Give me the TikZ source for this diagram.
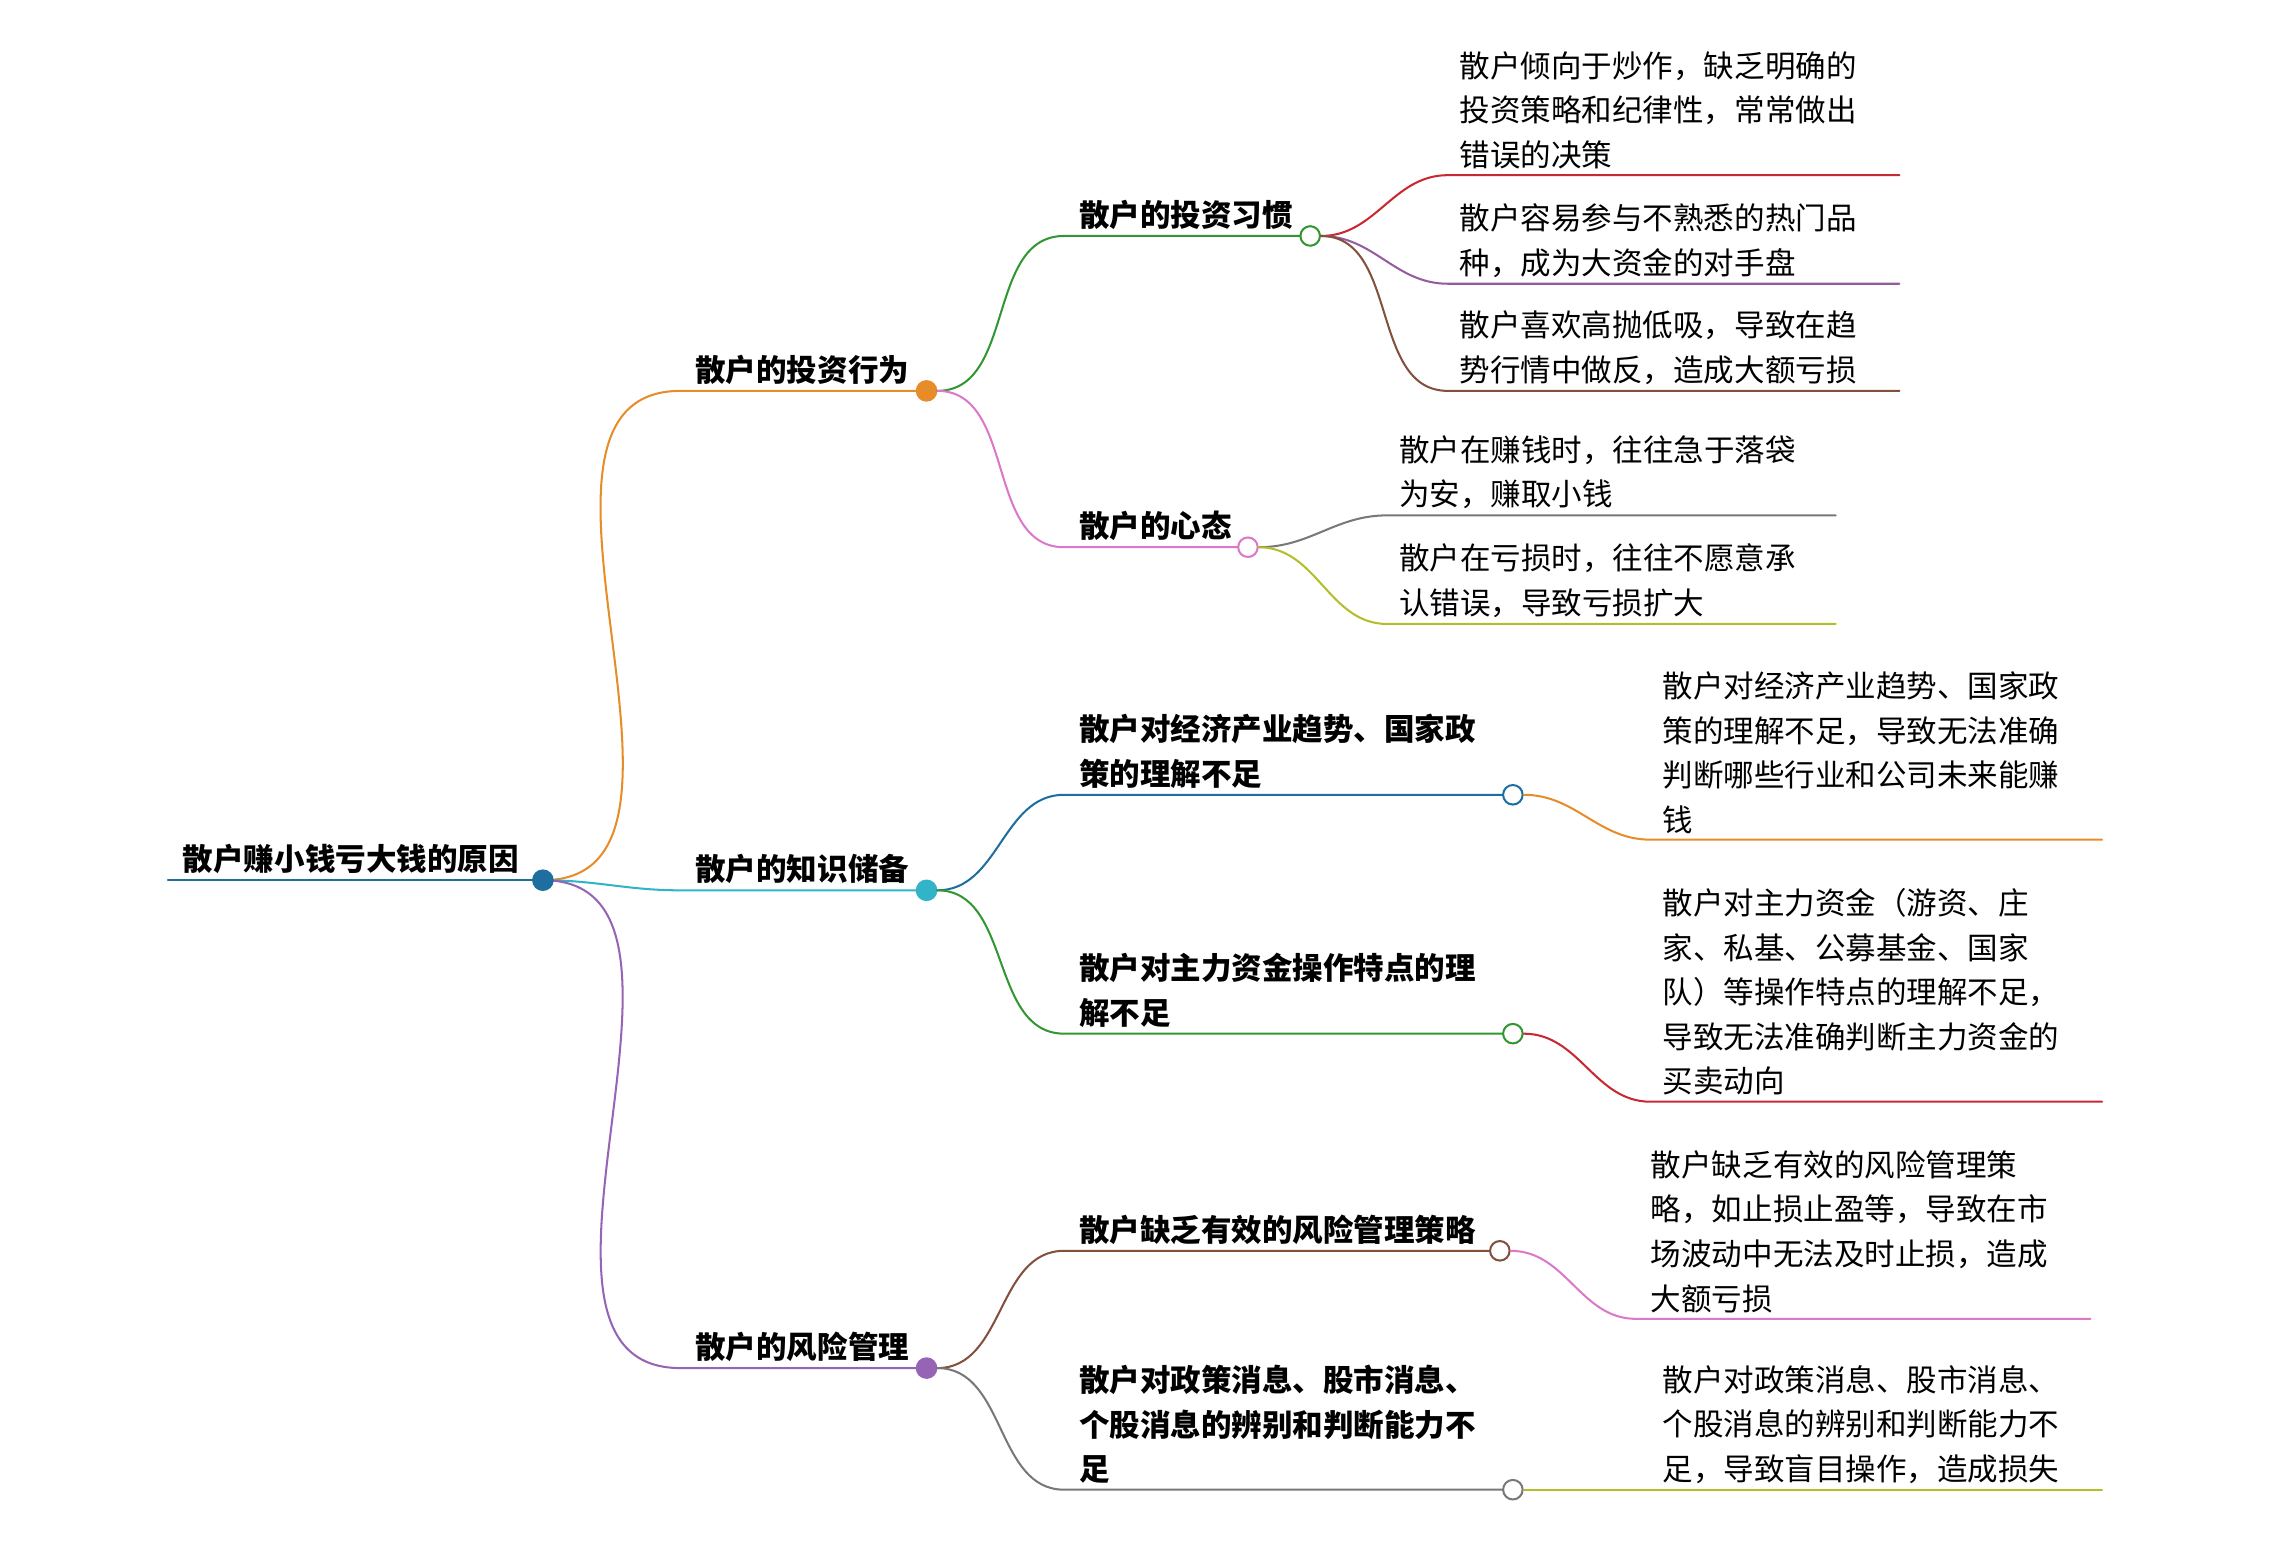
\documentclass[tikz,border=0pt]{standalone}
\usepackage{fontspec}
\setmainfont{Noto Sans CJK SC}
\usetikzlibrary{positioning}
\definecolor{cBlue}{RGB}{30,100,160}
\definecolor{cOrange}{RGB}{230,140,40}
\definecolor{cCyan}{RGB}{50,180,200}
\definecolor{cPurple}{RGB}{150,100,180}
\definecolor{cGreen}{RGB}{50,150,50}
\definecolor{cPink}{RGB}{220,120,200}
\definecolor{cRed}{RGB}{200,40,50}
\definecolor{cLilac}{RGB}{150,90,160}
\definecolor{cBrown}{RGB}{130,80,60}
\definecolor{cGray}{RGB}{120,120,120}
\definecolor{cOlive}{RGB}{180,190,40}
\definecolor{cDBlue}{RGB}{30,110,160}
\begin{document}
\begin{tikzpicture}[x=0.02cm,y=-0.02cm,
	hub/.style={circle,draw,thick,fill=white,inner sep=0pt,minimum size=0.27cm},
	topic/.style={anchor=south west,inner sep=0pt,align=left,font=\fontsize{12}{17.5}\selectfont\bfseries},
	leaf/.style={anchor=south west,inner sep=0pt,align=left,font=\fontsize{12}{17.5}\selectfont},
	link/.style={thick, line cap=round}
	]
\useasboundingbox (0,0) rectangle (1568,1070);

% root
\coordinate (r0) at (116,608);
\node [leaf,font=\fontsize{12}{17.5}\selectfont\bfseries] (rt) at (126,604) {散户赚小钱亏大钱的原因};

% level 1
\coordinate (a0) at (470,270);
\coordinate (b0) at (470,615);
\coordinate (c0) at (470,945);
\node [topic] (at) at (480,266) {散户的投资行为};
\node [topic] (bt) at (480,611) {散户的知识储备};
\node [topic] (ct) at (480,941) {散户的风险管理};

% level 2
\coordinate (a10) at (735,163);
\coordinate (a20) at (735,378);
\coordinate (b10) at (735,549);
\coordinate (b20) at (735,714);
\coordinate (c10) at (735,864);
\coordinate (c20) at (735,1029);
\node [topic] (a1t) at (745,159) {散户的投资习惯};
\node [topic] (a2t) at (745,374) {散户的心态};
\node [topic] (b1t) at (745,545) {散户对经济产业趋势、国家政\\策的理解不足};
\node [topic] (b2t) at (745,710) {散户对主力资金操作特点的理\\解不足};
\node [topic] (c1t) at (745,860) {散户缺乏有效的风险管理策略};
\node [topic] (c2t) at (745,1025) {散户对政策消息、股市消息、\\个股消息的辨别和判断能力不\\足};

% level 3 lines
\coordinate (l1s) at (1000,121); \coordinate (l1e) at (1312,121);
\coordinate (l2s) at (1000,196); \coordinate (l2e) at (1312,196);
\coordinate (l3s) at (1000,270); \coordinate (l3e) at (1312,270);
\coordinate (l4s) at (958,356);  \coordinate (l4e) at (1268,356);
\coordinate (l5s) at (958,431);  \coordinate (l5e) at (1268,431);
\coordinate (l6s) at (1140,580); \coordinate (l6e) at (1452,580);
\coordinate (l7s) at (1140,761); \coordinate (l7e) at (1452,761);
\coordinate (l8s) at (1130,911); \coordinate (l8e) at (1444,911);
\coordinate (l9s) at (1140,1029);\coordinate (l9e) at (1452,1029);
\node [leaf] (l1t) at (1008,117) {散户倾向于炒作，缺乏明确的\\投资策略和纪律性，常常做出\\错误的决策};
\node [leaf] (l2t) at (1008,192) {散户容易参与不熟悉的热门品\\种，成为大资金的对手盘};
\node [leaf] (l3t) at (1008,266) {散户喜欢高抛低吸，导致在趋\\势行情中做反，造成大额亏损};
\node [leaf] (l4t) at (966,352) {散户在赚钱时，往往急于落袋\\为安，赚取小钱};
\node [leaf] (l5t) at (966,427) {散户在亏损时，往往不愿意承\\认错误，导致亏损扩大};
\node [leaf] (l6t) at (1148,576) {散户对经济产业趋势、国家政\\策的理解不足，导致无法准确\\判断哪些行业和公司未来能赚\\钱};
\node [leaf] (l7t) at (1148,757) {散户对主力资金（游资、庄\\家、私基、公募基金、国家\\队）等操作特点的理解不足，\\导致无法准确判断主力资金的\\买卖动向};
\node [leaf] (l8t) at (1140,907) {散户缺乏有效的风险管理策\\略，如止损止盈等，导致在市\\场波动中无法及时止损，造成\\大额亏损};
\node [leaf] (l9t) at (1148,1025) {散户对政策消息、股市消息、\\个股消息的辨别和判断能力不\\足，导致盲目操作，造成损失};

% connectors
\draw [link,cOrange] (375,608) coordinate (rj) to[out=0,in=180] (a0) -- (640,270);
\draw [link,cCyan] (rj) to[out=0,in=180] (b0) -- (640,615);
\draw [link,cPurple] (rj) to[out=0,in=180] (c0) -- (640,945);
\draw [link,cDBlue] (r0) -- (rj);
\node [hub,cDBlue] (rh) at (rj) {};
\node [hub,cOrange] (ah) at (640,270) {};
\node [hub,cCyan] (bh) at (640,615) {};
\node [hub,cPurple] (ch) at (640,945) {};

\draw [link,cGreen] (ah) to[out=0,in=180] (a10) -- (905,163) node [hub] (a1h) {};
\draw [link,cPink] (ah) to[out=0,in=180] (a20) -- (862,378) node [hub] (a2h) {};
\draw [link,cDBlue] (bh) to[out=0,in=180] (b10) -- (1045,549) node [hub] (b1h) {};
\draw [link,cGreen] (bh) to[out=0,in=180] (b20) -- (1045,714) node [hub] (b2h) {};
\draw [link,cBrown] (ch) to[out=0,in=180] (c10) -- (1036,864) node [hub] (c1h) {};
\draw [link,cGray] (ch) to[out=0,in=180] (c20) -- (1045,1029) node [hub] (c2h) {};

\draw [link,cRed] (a1h) to[out=0,in=180] (l1s) -- (l1e);
\draw [link,cLilac] (a1h) to[out=0,in=180] (l2s) -- (l2e);
\draw [link,cBrown] (a1h) to[out=0,in=180] (l3s) -- (l3e);
\draw [link,cGray] (a2h) to[out=0,in=180] (l4s) -- (l4e);
\draw [link,cOlive] (a2h) to[out=0,in=180] (l5s) -- (l5e);
\draw [link,cOrange] (b1h) to[out=0,in=180] (l6s) -- (l6e);
\draw [link,cRed] (b2h) to[out=0,in=180] (l7s) -- (l7e);
\draw [link,cPink] (c1h) to[out=0,in=180] (l8s) -- (l8e);
\draw [link,cOlive] (c2h) -- (l9s) -- (l9e);
\end{tikzpicture}
\end{document}
